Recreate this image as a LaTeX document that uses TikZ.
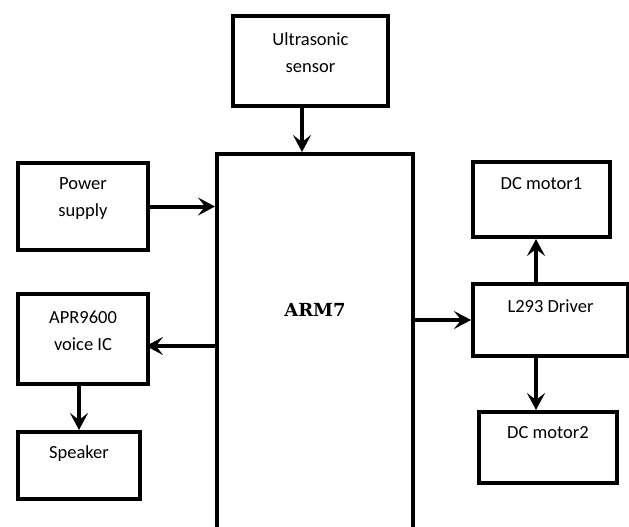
\documentclass[tikz,border=0pt]{standalone}
\usepackage{fontspec}
\setmainfont{Carlito}
\newfontfamily\armfont{DejaVu Serif}
\usetikzlibrary{arrows.meta}
\begin{document}
\begin{tikzpicture}[x=1pt,y=-1pt,
  box/.style={draw,line width=4pt,inner sep=0pt,minimum width=#1},
  txt/.style={font=\fontsize{18.5}{27}\selectfont,align=center,inner sep=0pt},
  arr/.style={line width=4pt,-{Stealth[length=17pt,width=18pt,inset=7pt]}}]
\useasboundingbox (0,0) rectangle (629,527);
\clip (0,0) rectangle (629,527);
\node[box=155pt,minimum height=90pt] (us) at (310.5,61) {};
\node[txt] (ust) at (310.5,52.5) {Ultrasonic\\sensor};
\node[box=196pt,minimum height=390pt] (arm) at (315,349) {};
\node[font=\armfont\bfseries\fontsize{18}{22}\selectfont,inner sep=0pt] (armt) at (315,310) {ARM7};
\node[box=130pt,minimum height=87pt] (ps) at (83,206.5) {};
\node[txt] (pst) at (83,198.5) {Power\\supply};
\node[box=130pt,minimum height=90pt] (apr) at (83,339) {};
\node[txt] (aprt) at (83,330.5) {APR9600\\voice IC};
\node[box=122pt,minimum height=67pt] (spk) at (79,465.5) {};
\node[txt] (spkt) at (79,454) {Speaker};
\node[box=137pt,minimum height=75pt] (m1) at (541.5,199.5) {};
\node[txt] (m1t) at (541.5,184) {DC motor1};
\node[box=155pt,minimum height=72pt] (drv) at (550.5,320) {};
\node[txt] (drvt) at (550.5,306) {L293 Driver};
\node[box=138pt,minimum height=71pt] (m2) at (548,447.5) {};
\node[txt] (m2t) at (548,433) {DC motor2};
\draw[arr] ([xshift=-8.5pt]us.south) -- ([xshift=-8.5pt]us.south |- arm.north);
\draw[arr] (ps.east) -- (ps.east -| arm.west);
\draw[arr] ([yshift=-7pt]apr.east -| arm.west) -- ([yshift=-7pt,xshift=-4pt]apr.east);
\draw[arr] (spk.north |- apr.south) -- (spk.north);
\draw[arr] (drv.west -| arm.east) -- (drv.west);
\draw[arr] ([xshift=-5.5pt]m1.south |- drv.north) -- ([xshift=-5.5pt]m1.south);
\draw[arr] ([xshift=-12pt]m2.north |- drv.south) -- ([xshift=-12pt]m2.north);
\end{tikzpicture}
\end{document}
